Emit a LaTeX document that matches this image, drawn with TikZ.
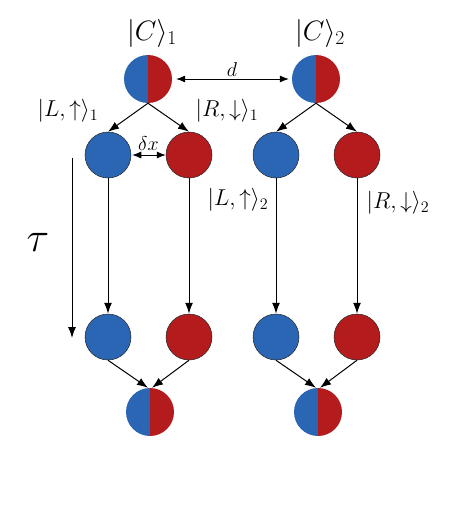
\RequirePackage{fix-cm}
\documentclass[tikz,border=0pt]{standalone}
\usepackage{xcolor}
\usetikzlibrary{arrows.meta,positioning}
\definecolor{spinblue}{RGB}{42,102,180}
\definecolor{spinred}{RGB}{179,27,29}
\newcommand{\ketlbl}[1]{$|#1\rangle$}

\begin{document}
\begin{tikzpicture}[x=1pt,y=-1pt,
        every node/.style={font=\fontsize{23}{27}\selectfont},
        upst/.style={circle,draw=black!85,line width=0.5pt,fill=spinblue,
          minimum size=46pt,inner sep=0pt},
        downst/.style={upst,fill=spinred},
        catst/.style={circle,minimum size=48pt,inner sep=0pt,
          path picture={
            \fill[spinblue] (path picture bounding box.south west) rectangle (path picture bounding box.north);
            \fill[spinred] (path picture bounding box.south) rectangle (path picture bounding box.north east);}},
        arrow/.style={-{Latex[length=11pt,width=8pt]},line width=1pt},
        dblarrow/.style={{Latex[length=9pt,width=7pt]}-{Latex[length=9pt,width=7pt]},line width=0.8pt}]
        \useasboundingbox (0,0) rectangle (463,506);
        % first pair
        \node[catst] (c1) at (148,79) {};
        \node[upst] (u1) at (108,155) {};
        \node[downst] (d1) at (189,155) {};
        \node[upst] (u3) at (108,337) {};
        \node[downst] (d3) at (189,337) {};
        \node[catst] (c3) at (150,412) {};
        % second pair
        \node[catst] (c2) at (316,79) {};
        \node[upst] (u2) at (276,155) {};
        \node[downst] (d2) at (357,155) {};
        \node[upst] (u4) at (276,337) {};
        \node[downst] (d4) at (357,337) {};
        \node[catst] (c4) at (318,412) {};
        % labels
        \node[font=\fontsize{28}{32}\selectfont] (lc1) at (152,33) {\ketlbl{C}$_1$};
        \node[font=\fontsize{28}{32}\selectfont] (lc2) at (320,33) {\ketlbl{C}$_2$};
        \node (lu1) at (68,111) {\ketlbl{L,\uparrow}$_1$};
        \node (ld1) at (227,111) {\ketlbl{R,\downarrow}$_1$};
        \node (lu2) at (238,200) {\ketlbl{L,\uparrow}$_2$};
        \node (ld2) at (398,203) {\ketlbl{R,\downarrow}$_2$};
        \node[font=\fontsize{42}{46}\selectfont] (tau) at (38,242) {$\tau$};
        \coordinate (t0) at (72,158);
        \coordinate (t1) at (72,338);
        % connectors
        \draw[dblarrow,shorten <=4pt,shorten >=3pt] (c1) -- (c2)
          node[midway,above=-1pt,font=\fontsize{20}{24}\selectfont] {$d$};
        \draw[dblarrow,shorten <=1pt,shorten >=0pt] (u1) -- (d1)
          node[midway,above=1pt,font=\fontsize{20}{24}\selectfont] {$\delta x$};
        \draw[arrow] (c1.south) -- (u1.north);
        \draw[arrow] (c1.south) -- (d1.north);
        \draw[arrow] (c2.south) -- (u2.north);
        \draw[arrow] (c2.south) -- (d2.north);
        \draw[arrow] (u1.south) -- (u3.north);
        \draw[arrow] (d1.south) -- (d3.north);
        \draw[arrow] (u2.south) -- (u4.north);
        \draw[arrow] (d2.south) -- (d4.north);
        \draw[arrow] (u3.south) -- ([xshift=-2pt]c3.north);
        \draw[arrow] (d3.south) -- ([xshift=2pt]c3.north);
        \draw[arrow] (u4.south) -- ([xshift=-2pt]c4.north);
        \draw[arrow] (d4.south) -- ([xshift=2pt]c4.north);
        \draw[arrow] (t0) -- (t1);
      \end{tikzpicture}
\end{document}
